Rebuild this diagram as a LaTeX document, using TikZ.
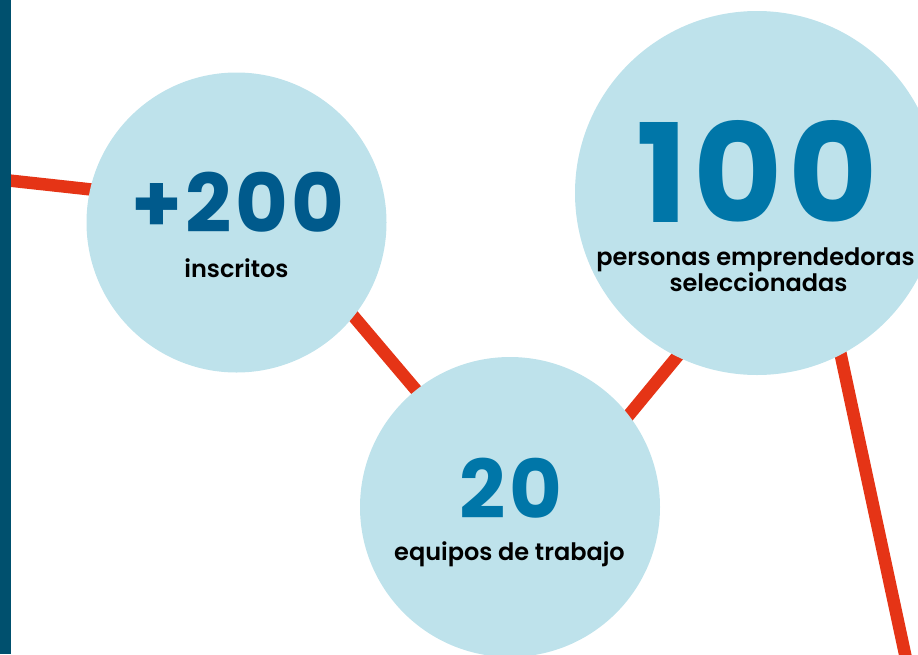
\documentclass[tikz,border=0pt]{standalone}
\usepackage{fontspec}
\setmainfont{Poppins}[BoldFont={Poppins Bold}]
\newfontfamily\capfont{Poppins SemiBold}
\newfontfamily\numfont{Poppins Bold}[LetterSpace=4]
\definecolor{barteal}{HTML}{00506E}
\definecolor{linered}{HTML}{E53416}
\definecolor{bubble}{HTML}{BEE2EB}
\definecolor{darknum}{HTML}{005A8C}
\definecolor{lightnum}{HTML}{0076A8}
\tikzset{
  link/.style={draw=linered, line width=12.5pt},
  bubblenode/.style={circle, fill=bubble, inner sep=0pt, draw=none},
  bignum/.style={anchor=base, inner sep=0pt, font=\numfont\fontsize{81}{81}\selectfont},
  caption/.style={anchor=base, inner sep=0pt, font=\capfont\fontsize{24}{24}\selectfont, text=black},
}
\begin{document}
\begin{tikzpicture}[x=1pt, y=-1pt]
\useasboundingbox (0,0) rectangle (918,654);
\clip (0,0) rectangle (918,654);
% connector end points
\coordinate (a0) at (0,179.5);
\coordinate (a1) at (169,198);
\coordinate (b0) at (330,288.5);
\coordinate (b1) at (440,418.3);
\coordinate (c0) at (600.8,449.2);
\coordinate (c1) at (699.5,329.5);
\coordinate (d0) at (809,207);
\coordinate (d1) at (911.4,683.8);
% connectors (behind bubbles)
\draw[link] (a0) -- (a1);
\draw[link] (b0) -- (b1);
\draw[link] (c0) -- (c1);
\draw[link] (d0) -- (d1);
% bubbles
\node[bubblenode, minimum size=300pt] (inscr) at (236.5,222.5) {};
\node[bubblenode, minimum size=364pt] (sel) at (757,193) {};
\node[bubblenode, minimum size=300pt] (equip) at (510,507) {};
% left bar
\fill[barteal] (0,0) rectangle (11,654);
% texts
\node[bignum, text=darknum] (n200) at (238,232.5) {+200};
\node[caption] (l200) at (236.5,277) {inscritos};
\node[bignum, text=lightnum, font=\numfont\fontsize{137}{137}\selectfont] (n100) at (757,222.5) {100};
\node[caption] (l100a) at (755.5,265) {personas emprendedoras};
\node[caption] (l100b) at (758.5,291) {seleccionadas};
\node[bignum, text=lightnum] (n20) at (511,518.5) {20};
\node[caption] (l20) at (509.5,560) {equipos de trabajo};
\end{tikzpicture}
\end{document}
